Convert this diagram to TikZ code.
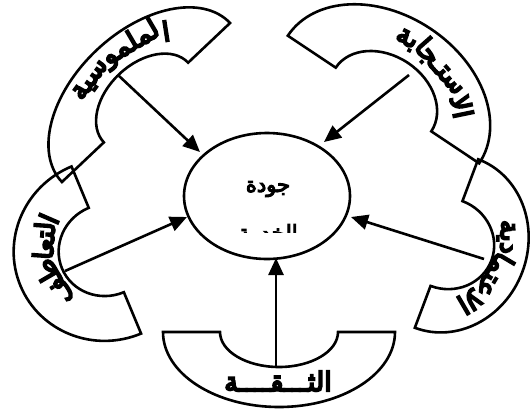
\documentclass[tikz,border=0pt]{standalone}
\usepackage{fontspec}
\newfontfamily\arheavy[Script=Arabic,FakeBold=7]{DejaVu Sans}
\newfontfamily\arbold[Script=Arabic,FakeBold=5]{DejaVu Sans}
\usetikzlibrary{arrows.meta,shapes.geometric}
\TeXXeTstate=1
\tikzset{
  band/.style={line width=2.6pt, line join=miter},
  conn/.style={line width=2.6pt, -{Triangle[length=17pt,width=15pt]}},
  lbl/.style={inner sep=0pt, font=\lblfont},
  ctr/.style={font=\arbold\fontsize{21}{24}\selectfont, inner sep=0pt},
  qual/.style={ellipse, draw, line width=2.6pt, minimum width=166pt, minimum height=126pt, inner sep=0pt},
}
\newcommand\lblfont{\arheavy\fontsize{27}{30}\selectfont}
\newlength\chlen
% cx cy phi a b ai bi
\newcommand\blockarc[7]{%
  \begin{scope}[shift={(#1,-#2)}, rotate=#3]
    \draw[band] (#4,0) arc[start angle=0,end angle=180,x radius=#4,y radius=#5]
      -- (-#6,0) arc[start angle=180,end angle=0,x radius=#6,y radius=#7] -- cycle;
  \end{scope}}
% measure text width outside the picture: \measure{name}{text}
\newcommand\measure[2]{%
  \settowidth\chlen{\lblfont\beginR #2\endR}%
  \expandafter\edef\csname chw#1\endcsname{\the\chlen}}
% \chunk{name}{text}: placed along ellipse (\A,\B) from parameter \curt on
\newcommand\chunk[2]{%
  \pgfmathsetmacro\chhalf{0.5*\csname chw#1\endcsname}%
  \pgfmathsetmacro\chds{sqrt((\A*sin(\curt))^2+(\B*cos(\curt))^2)*pi/180}%
  \pgfmathsetmacro\curt{\curt+\chhalf/\chds}%
  \pgfmathsetmacro\chds{sqrt((\A*sin(\curt))^2+(\B*cos(\curt))^2)*pi/180}%
  \pgfmathsetmacro\chrot{atan2(-\B*cos(\curt), \A*sin(\curt))}%
  \node[lbl, rotate=\chrot] (#1) at ({\A*cos(\curt)},{\B*sin(\curt)}) {\beginR #2\endR};
  \pgfmathsetmacro\curt{\curt+\chhalf/\chds}%
}
\begin{document}
\measure{ta}{ا}\measure{tb}{لملمو}\measure{tc}{سية}
\measure{ra}{الا}\measure{rb}{ستـجا}\measure{rc}{بة}
\measure{la}{ا}\measure{lb}{لتعا}\measure{lc}{طف}
\measure{ea}{الا}\measure{eb}{عتما}\measure{ec}{دية}
\begin{tikzpicture}[x=1pt,y=1pt]
\useasboundingbox (0,0) rectangle (532,-408);
\clip (0,0) rectangle (532,-408);
% block arcs
\blockarc{146}{102.5}{43.4}{115.7}{72}{58}{39}
\blockarc{383.5}{99.5}{-33.7}{115}{85}{57.4}{44}
\blockarc{106.3}{250}{112.6}{90.5}{93}{45.7}{48}
\blockarc{446.5}{243.5}{-110.6}{90}{81}{45.3}{48}
\blockarc{279}{332}{180}{116}{75}{59}{35}
% labels
\begin{scope}[shift={(146,-102.5)}, rotate=43.4, transform shape]
  \def\A{87}\def\B{56}\def\curt{40}
  \chunk{ta}{ا}\chunk{tb}{لملمو}\chunk{tc}{سية}
\end{scope}
\begin{scope}[shift={(383.5,-99.5)}, rotate=-33.7, transform shape]
  \def\A{86}\def\B{63}\def\curt{27}
  \chunk{ra}{الا}\chunk{rb}{ستـجا}\chunk{rc}{بة}
\end{scope}
\begin{scope}[shift={(106.3,-250)}, rotate=112.6, transform shape]
  \def\A{68}\def\B{62}\def\curt{38}
  \chunk{la}{ا}\chunk{lb}{لتعا}\chunk{lc}{طف}
\end{scope}
\begin{scope}[shift={(446.5,-243.5)}, rotate=-110.6, transform shape]
  \def\A{67}\def\B{58}\def\curt{36}
  \chunk{ea}{الا}\chunk{eb}{عتما}\chunk{ec}{دية}
\end{scope}
\node[lbl] (tl5) at (278,-381) {\beginR الثـــقــــة\endR};
% centre
\node[qual] (q) at (267,-196) {};
\node[ctr] (q1) at (268,-189) {\beginR جودة\endR};
\begin{scope}
  \clip (200,-160) rectangle (330,-232);
  \node[ctr, anchor=base] (q2) at (268,-240) {\beginR الخدمة\endR};
\end{scope}
% connectors
\coordinate (s1) at (118,-75);  \coordinate (e1) at (200,-152);
\coordinate (s2) at (409,-75);  \coordinate (e2) at (324,-142);
\coordinate (s3) at (65,-271);  \coordinate (e3) at (187,-217);
\coordinate (s4) at (484,-259); \coordinate (e4) at (351,-217);
\coordinate (s5) at (276,-367); \coordinate (e5) at (276,-258);
\draw[conn] (s1) -- (e1);
\draw[conn] (s2) -- (e2);
\draw[conn] (s3) -- (e3);
\draw[conn] (s4) -- (e4);
\draw[conn] (s5) -- (e5);
\end{tikzpicture}
\end{document}
